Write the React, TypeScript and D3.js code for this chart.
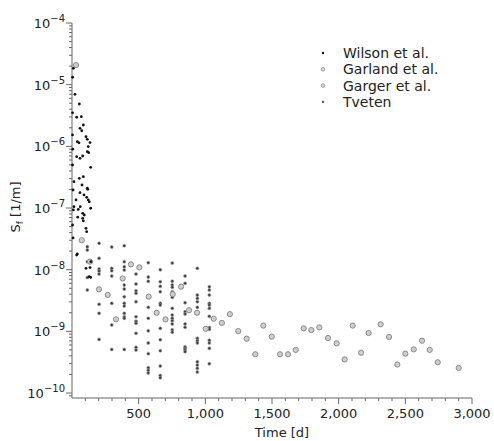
import React from "react";
import * as d3 from "d3";

// Wilson et al. — early measurements, [time in days, Sf in 1/m]
const wilson: [number, number][] = [
  [5, 1.32e-5], [10, 1.84e-5], [22, 6.98e-6], [55, 4.86e-6], [35, 2.96e-6],
  [70, 3.03e-6], [85, 2.22e-6], [60, 1.96e-6], [73, 1.79e-6], [105, 1.43e-6],
  [115, 1.3e-6], [135, 1.15e-6], [40, 1.19e-6], [52, 1.14e-6], [122, 9.9e-7],
  [115, 8.2e-7], [125, 7.9e-7], [80, 6.97e-7], [35, 6.8e-7], [60, 6.4e-7],
  [140, 4.57e-7], [15, 2.67e-7], [55, 3.03e-7], [85, 3.22e-7], [115, 2.09e-7],
  [60, 1.77e-7], [90, 1.63e-7], [30, 1.35e-7], [122, 1.35e-7], [47, 9.5e-8],
  [80, 8.2e-8], [15, 1.05e-7], [140, 9.9e-8], [75, 2.36e-7], [118, 2.01e-7],
  [110, 1.49e-7], [130, 1.26e-7], [10, 9.3e-8], [62, 1.05e-7], [92, 7.7e-8],
  [43, 7.1e-8], [80, 6.8e-8], [85, 6.2e-8], [105, 4.69e-8], [110, 4.13e-8],
  [35, 1.73e-8], [142, 1.35e-8], [105, 1.05e-8], [135, 1.08e-8], [130, 7.7e-9],
  [4, 1.53e-6], [4, 4.98e-7], [8, 1.96e-7], [4, 5.3e-8], [8, 3.27e-8],
  [4, 3.5e-6], [6, 9.0e-7], [40, 1.8e-8], [140, 7.5e-9],
];

// Garland et al. — a few open circles near the start
const garland: [number, number][] = [
  [30, 2.08e-5], [73, 3.0e-8], [135, 1.35e-8], [380, 7.2e-9],
];

// Garger et al. — long record of open circles
const garger: [number, number][] = [
  [202, 4.8e-9], [268, 3.9e-9], [330, 1.57e-9], [442, 1.22e-8], [505, 1.09e-8],
  [575, 3.65e-9], [635, 2.0e-9], [701, 1.56e-9], [755, 4.0e-9], [818, 5.3e-9],
  [878, 2.2e-9], [938, 2.0e-9], [1003, 1.1e-9], [1063, 1.6e-9], [1124, 1.37e-9],
  [1184, 1.9e-9], [1247, 1.01e-9], [1310, 7.6e-10], [1375, 4.25e-10], [1435, 1.24e-9],
  [1498, 8.2e-10], [1560, 4.25e-10], [1620, 4.25e-10], [1678, 5.0e-10], [1738, 1.12e-9],
  [1795, 1.05e-9], [1855, 1.16e-9], [1920, 7.8e-10], [1985, 6.4e-10], [2045, 3.5e-10],
  [2105, 1.24e-9], [2168, 4.5e-10], [2225, 9.4e-10], [2315, 1.3e-9], [2378, 8.1e-10],
  [2440, 2.9e-10], [2500, 4.35e-10], [2563, 5.1e-10], [2625, 7.05e-10], [2683, 5.0e-10],
  [2743, 3.15e-10], [2900, 2.55e-10],
];

// Tveten — repeated measurements at fixed times
const tvetenDays = [115, 203, 298, 392, 480, 572, 662, 752, 848, 940, 1030];
const tvetenValues: number[][] = [
  [2.36e-8, 2.08e-8, 1.35e-8, 7.5e-9, 4.7e-9],
  [2.68e-8, 1.53e-8, 1.03e-8, 9.5e-9, 8.5e-9, 2.75e-9, 1.96e-9, 7.4e-10],
  [2.33e-8, 1.05e-8, 9.6e-9, 7.9e-9, 2.85e-9, 1.27e-9, 5.1e-10],
  [2.45e-8, 1.35e-8, 1.12e-8, 9.9e-9, 5.65e-9, 4.87e-9, 3.65e-9, 2.85e-9, 2.58e-9, 1.96e-9, 1.73e-9, 1.63e-9, 5.1e-10],
  [8.5e-9, 5.86e-9, 4.56e-9, 4.14e-9, 3.03e-9, 1.73e-9, 1.46e-9, 1.35e-9, 9.3e-10, 5.5e-10, 4.99e-10],
  [1.3e-8, 7.6e-9, 6.5e-9, 3.65e-9, 2.45e-9, 1.63e-9, 1.02e-9, 6.5e-10, 4.35e-10, 2.58e-10, 2.33e-10, 2.11e-10],
  [1.0e-8, 6.4e-9, 5.37e-9, 4.4e-9, 2.85e-9, 2.67e-9, 1.12e-9, 7.3e-10, 4.86e-10, 2.74e-10, 1.92e-10, 1.77e-10],
  [1.28e-8, 6.5e-9, 5.65e-9, 5.18e-9, 4.4e-9, 3.56e-9, 2.36e-9, 1.84e-9, 1.63e-9, 1.49e-9, 1.32e-9, 1.06e-9, 9.7e-10],
  [7.9e-9, 6.0e-9, 2.92e-9, 2.08e-9, 1.91e-9, 1.32e-9, 1.16e-9, 5.6e-10, 5.3e-10, 4.99e-10, 4.68e-10],
  [1.05e-8, 3.88e-9, 3.43e-9, 3.03e-9, 2.45e-9, 2.0e-9, 7.7e-10, 7.05e-10, 6.5e-10, 3.22e-10, 2.85e-10, 2.52e-10, 2.19e-10],
  [5.3e-9, 4.68e-9, 3.88e-9, 2.85e-9, 2.67e-9, 2.36e-9, 1.75e-9, 1.15e-9, 1.08e-9, 7.2e-10, 6.5e-10, 5.3e-10, 2.99e-10],
];

const xTicks = [500, 1000, 1500, 2000, 2500, 3000];
const yExponents = [-10, -9, -8, -7, -6, -5, -4];
const legendNames = ["Wilson et al.", "Garland et al.", "Garger et al.", "Tveten"];

const FONT = "DejaVu Sans, sans-serif";

export default function App() {
  const width = 494;
  const height = 441;
  const left = 72, right = 472, top = 23, bottom = 398;

  const x = d3.scaleLinear().domain([0, 3000]).range([left, right]);
  const y = d3.scaleLog().domain([8.3e-11, 1e-4]).range([bottom, top]);

  const tveten: [number, number][] = tvetenDays.flatMap((t, i) =>
    tvetenValues[i].map((v) => [t, v] as [number, number])
  );

  const xMinor = d3.range(100, 3001, 100).filter((v) => v % 500 !== 0);
  const yMinor: number[] = [];
  for (let e = -11; e <= -5; e++) {
    for (let m = 2; m <= 9; m++) {
      const v = m * Math.pow(10, e);
      if (v >= 8.3e-11 && v <= 1e-4) yMinor.push(v);
    }
  }

  const axisColor = "#666";
  const textColor = "#222";
  const fmt = d3.format(",");

  const circleStyle = { fill: "#cfcfcf", stroke: "#8a8a8a", strokeWidth: 1 };

  return (
    <svg
      width={width}
      height={height}
      style={{ position: "absolute", left: 0, top: 0, background: "#fff" }}
      fontFamily={FONT}
    >
      <rect width={width} height={height} fill="#fff" />

      {/* axes */}
      <line x1={left} x2={left} y1={top} y2={bottom} stroke={axisColor} strokeWidth={1} />
      <line x1={left} x2={right} y1={bottom} y2={bottom} stroke={axisColor} strokeWidth={1} />

      {yMinor.map((v, i) => (
        <line key={"ym" + i} x1={left - 3} x2={left} y1={y(v)} y2={y(v)} stroke={axisColor} />
      ))}
      {yExponents.map((e) => (
        <g key={"y" + e}>
          <line x1={left - 6} x2={left} y1={y(Math.pow(10, e))} y2={y(Math.pow(10, e))} stroke={axisColor} />
          <text
            x={left - 7}
            y={y(Math.pow(10, e)) + 5}
            textAnchor="end"
            fontSize={13}
            fill={textColor}
          >
            10<tspan fontSize={10} dy={-6}>{"\u2212" + Math.abs(e)}</tspan>
          </text>
        </g>
      ))}

      {xMinor.map((v) => (
        <line key={"xm" + v} x1={x(v)} x2={x(v)} y1={bottom} y2={bottom + 3} stroke={axisColor} />
      ))}
      {xTicks.map((v) => (
        <g key={"x" + v}>
          <line x1={x(v)} x2={x(v)} y1={bottom} y2={bottom + 6} stroke={axisColor} />
          <text x={x(v)} y={bottom + 20} textAnchor="middle" fontSize={13} fill={textColor}>
            {fmt(v)}
          </text>
        </g>
      ))}

      {/* axis titles */}
      <text x={(left + right) / 2 + 10} y={437} textAnchor="middle" fontSize={13} fill={textColor}>
        Time [d]
      </text>
      <text
        transform={`translate(20, ${207}) rotate(-90)`}
        textAnchor="middle"
        fontSize={13}
        fill={textColor}
      >
        S<tspan fontSize={9} dy={3}>f</tspan>
        <tspan dy={-3}> [1/m]</tspan>
      </text>

      {/* series */}
      {tveten.map(([t, v], i) => (
        <circle key={"tv" + i} cx={x(t)} cy={y(v)} r={1.5} fill="#3a3a3a" stroke="#999" strokeWidth={0.6} />
      ))}
      {garger.map(([t, v], i) => (
        <circle key={"gg" + i} cx={x(t)} cy={y(v)} r={2.6} {...circleStyle} />
      ))}
      {garland.map(([t, v], i) => (
        <circle key={"gl" + i} cx={x(t)} cy={y(v)} r={2.6} {...circleStyle} />
      ))}
      {wilson.map(([t, v], i) => (
        <circle key={"w" + i} cx={x(t)} cy={y(v)} r={1.4} fill="#111" />
      ))}

      {/* legend */}
      <g>
        {legendNames.map((name, i) => {
          const ly = 53 + i * 16.3;
          return (
            <g key={name}>
              {i === 0 && <circle cx={323} cy={ly} r={1.2} fill="#111" />}
              {(i === 1 || i === 2) && (
                <circle cx={323} cy={ly} r={1.8} fill="#ddd" stroke="#888" strokeWidth={0.8} />
              )}
              {i === 3 && <circle cx={323} cy={ly} r={1.2} fill="#555" />}
              <text x={343} y={ly + 5} fontSize={14} fill={textColor}>
                {name}
              </text>
            </g>
          );
        })}
      </g>
    </svg>
  );
}
